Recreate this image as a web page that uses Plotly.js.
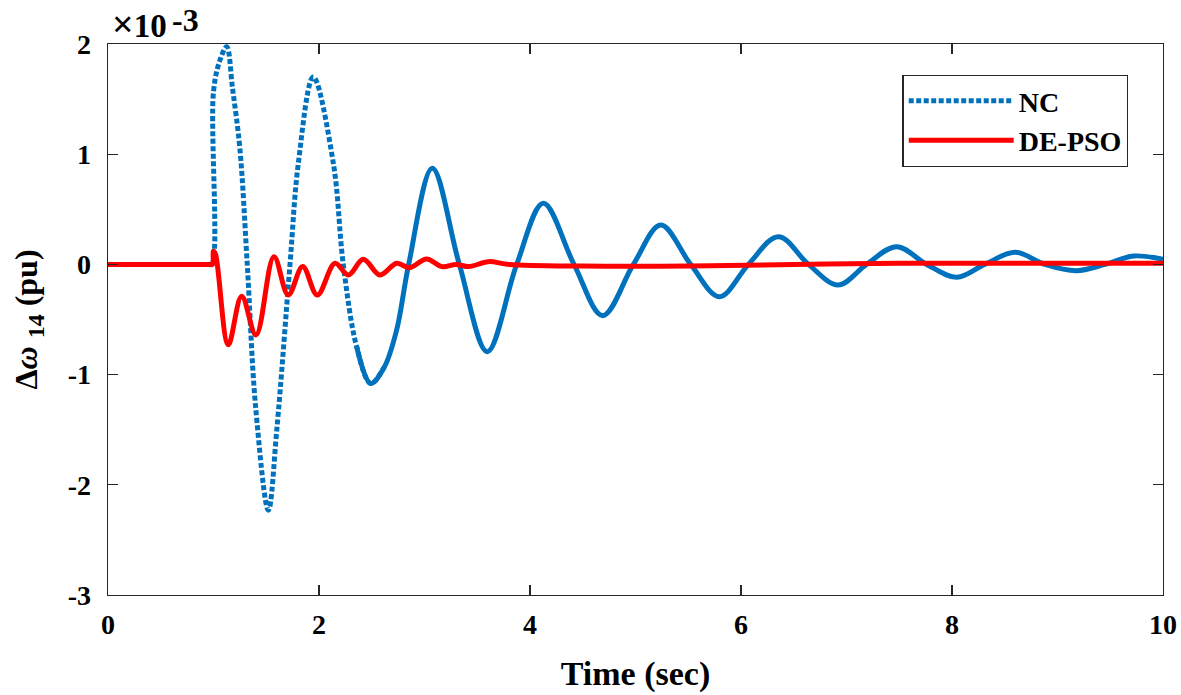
<!DOCTYPE html>
<html>
<head>
<meta charset="utf-8">
<script src="https://cdn.plot.ly/plotly-3.0.1.min.js"></script>
<style>
  html, body { margin: 0; padding: 0; background: #fff; }
  #chart { width: 1181px; height: 695px; }
</style>
</head>
<body>
<div id="chart"></div>
<script>
// Values in units of 10^-3 pu (axis multiplier shown as ×10^-3)
// NC (no controller) response
const ncTime = [0, 0.5, 0.9, 0.95, 0.985, 1.0, 1.06, 1.125, 1.18, 1.25, 1.32, 1.40, 1.52, 1.60, 1.725, 1.804, 1.946, 2.136, 2.23, 2.357, 2.49,
                2.62, 2.736, 2.85, 3.074, 3.33, 3.595, 3.874, 4.126, 4.417, 4.689, 4.98, 5.24, 5.523, 5.795, 6.07,
                6.354, 6.64, 6.92, 7.19, 7.475, 7.76, 8.045, 8.31, 8.597, 8.88, 9.18, 9.45, 9.72, 10.0];
const ncValue = [0, 0, 0, 0, 0, 1.567, 1.85, 1.975, 1.60, 1.05, 0, -1.30, -2.23, -1.50, 0, 0.917, 1.70, 0.917, 0, -0.747, -1.08,
                 -0.93, -0.595, 0, 0.872, 0, -0.792, 0, 0.554, 0, -0.465, 0, 0.357, 0, -0.293, 0,
                 0.252, 0, -0.187, 0, 0.161, 0, -0.117, 0, 0.110, 0, -0.057, 0, 0.076, 0.046];
// The NC curve is drawn dotted up to the first trough after 2 s, solid after it
const ncDottedUntil = 2.49;

// DE-PSO controlled response
const psoTime = [0, 0.5, 0.9, 0.96, 0.99, 1.0, 1.02, 1.14, 1.267, 1.403, 1.573, 1.709, 1.845, 1.984, 2.152, 2.278, 2.42, 2.578,
                 2.736, 2.86, 3.02, 3.163, 3.30, 3.42, 3.605, 3.80, 4.5, 5.5, 6.5, 7.5, 10.0];
const psoValue = [0, 0, 0, 0, 0, 0.12, 0.09, -0.73, -0.29, -0.64, 0.07, -0.278, -0.02, -0.278, 0.01, -0.096, 0.046, -0.096,
                  0.01, -0.03, 0.05, -0.02, 0.0, -0.02, 0.025, 0.0, -0.015, -0.015, 0.0, 0.01, 0.01];

const xTicks = [0, 2, 4, 6, 8, 10];
const yTicks = [-3, -2, -1, 0, 1, 2];
const seriesNames = ['NC', 'DE-PSO'];

const FONT = 'Liberation Serif, Times New Roman, serif';
const AXC = '#262626';

// dotted part keeps one point past the split so the trough is an interior spline point;
// solid part starts one point before the split and is drawn on top.
const splitIdx = ncTime.indexOf(ncDottedUntil);
const dotIdx = ncTime.map((t, i) => i).filter(i => i <= splitIdx + 1);
const solIdx = ncTime.map((t, i) => i).filter(i => i >= splitIdx - 1);

const traces = [
  {
    x: dotIdx.map(i => ncTime[i]), y: dotIdx.map(i => ncValue[i]),
    name: seriesNames[0], mode: 'lines',
    line: {color: '#0072BD', width: 5, dash: '5px,2.5px', shape: 'spline', smoothing: 1},
    showlegend: true
  },
  {
    x: solIdx.map(i => ncTime[i]), y: solIdx.map(i => ncValue[i]),
    name: seriesNames[0], mode: 'lines',
    line: {color: '#0072BD', width: 5, shape: 'spline', smoothing: 1},
    showlegend: false
  },
  {
    x: psoTime, y: psoValue, name: seriesNames[1], mode: 'lines',
    line: {color: '#FF0000', width: 5, shape: 'spline', smoothing: 1},
    showlegend: true
  }
];

const layout = {
  width: 1181, height: 695,
  margin: {l: 108, r: 18, t: 44, b: 100},
  paper_bgcolor: '#fff', plot_bgcolor: '#fff',
  font: {family: FONT, size: 28, color: '#000', weight: 'bold'},
  showlegend: true,
  xaxis: {
    range: [0, 10], tickvals: xTicks, ticktext: xTicks.map(String),
    showgrid: false, zeroline: false,
    showline: true, linecolor: AXC, linewidth: 1.3, mirror: 'ticks',
    ticks: 'inside', ticklen: 10, tickwidth: 1.3, tickcolor: AXC,
    tickfont: {family: FONT, size: 28, color: '#000', weight: 'bold'},
    ticklabelstandoff: 4,
    title: {text: 'Time (sec)', font: {family: FONT, size: 34, color: '#000', weight: 'bold'}, standoff: 22}
  },
  yaxis: {
    range: [-3, 2], tickvals: yTicks, ticktext: yTicks.map(String),
    showgrid: false, zeroline: false,
    showline: true, linecolor: AXC, linewidth: 1.3, mirror: 'ticks',
    ticks: 'inside', ticklen: 10, tickwidth: 1.3, tickcolor: AXC,
    tickfont: {family: FONT, size: 28, color: '#000', weight: 'bold'},
    ticklabelstandoff: 10,
    title: {text: 'Δ<i>ω</i> <sub><span style="font-size:24px">14</span></sub> (pu)', font: {family: FONT, size: 32, color: '#000', weight: 'bold'}, standoff: 20}
  },
  legend: {
    x: 0.753, y: 0.944, xanchor: 'left', yanchor: 'top',
    bgcolor: '#fff', bordercolor: '#262626', borderwidth: 1.3,
    font: {family: FONT, size: 28, color: '#000', weight: 'bold'},
    itemwidth: 105, tracegroupgap: 0
  },
  annotations: [
    {
      xref: 'paper', yref: 'paper', x: 0.002, y: 0.9945, xanchor: 'left', yanchor: 'bottom',
      text: '<span style="font-size:38px">×</span>10', showarrow: false,
      font: {family: FONT, size: 33, color: '#000', weight: 'bold'}
    },
    {
      xref: 'paper', yref: 'paper', x: 0.0585, y: 1.079, xanchor: 'left', yanchor: 'top',
      text: '-3', showarrow: false,
      font: {family: FONT, size: 32, color: '#000', weight: 'bold'}
    }
  ]
};

Plotly.newPlot('chart', traces, layout, {displayModeBar: false, staticPlot: true});
</script>
</body>
</html>
